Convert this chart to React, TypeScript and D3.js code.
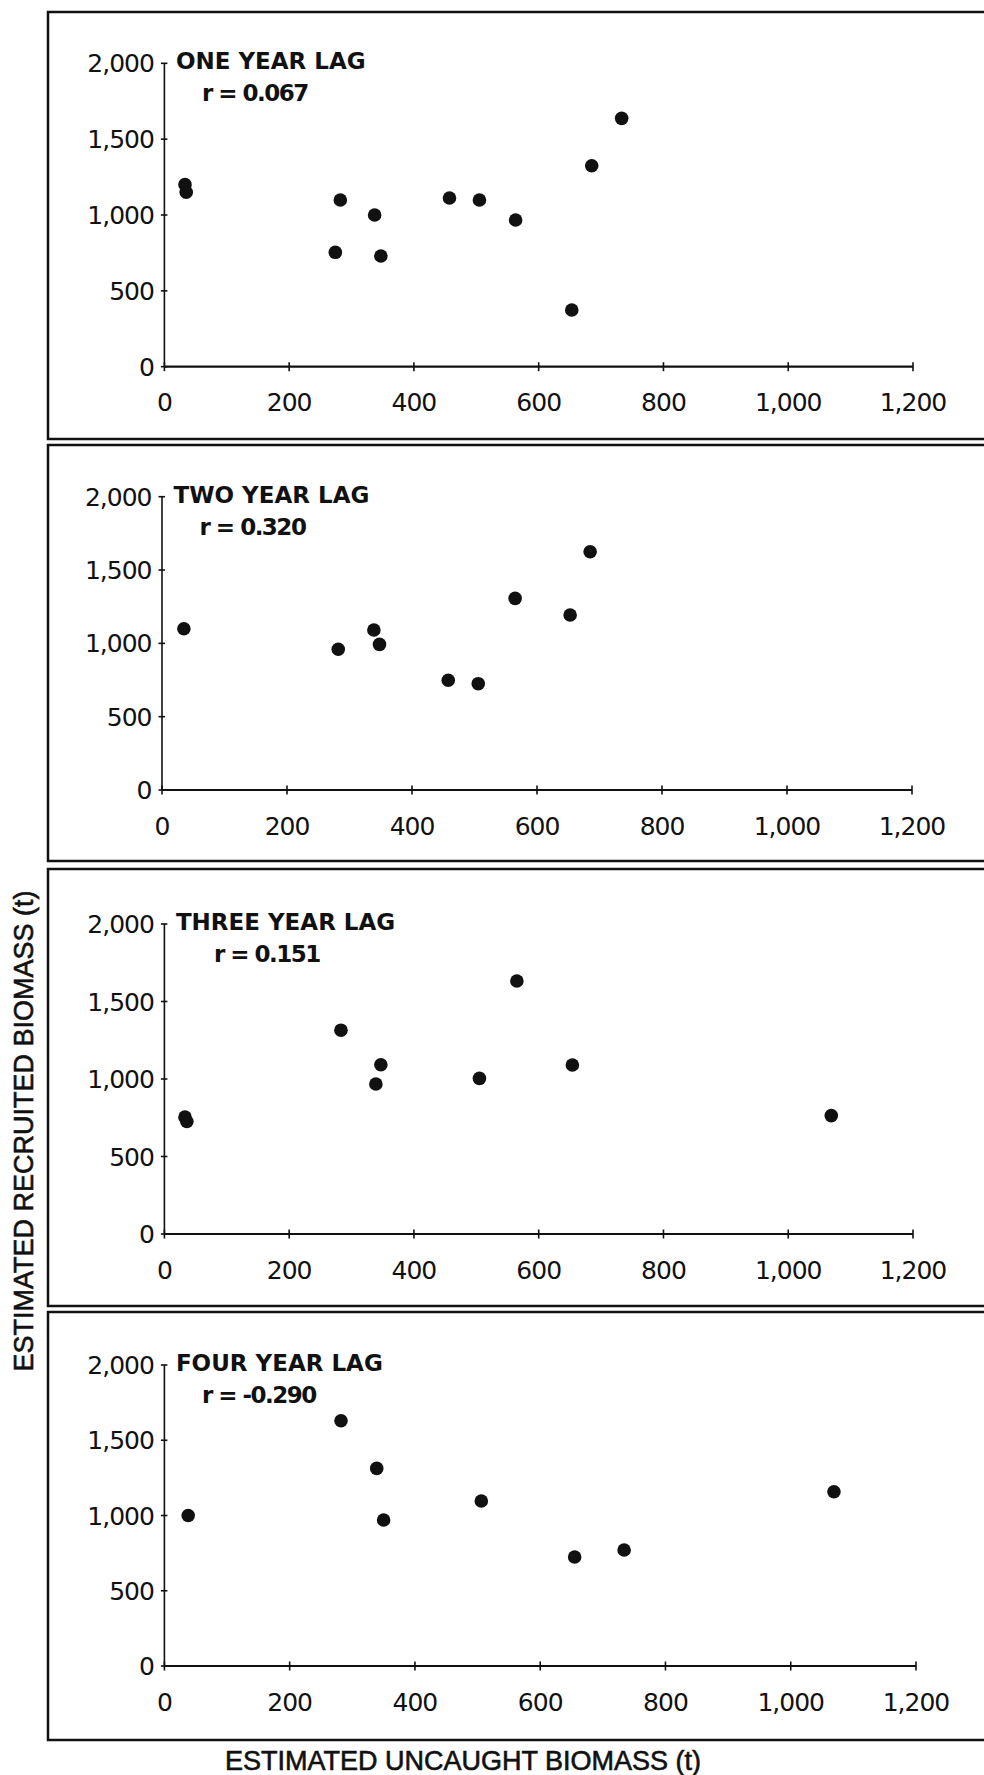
import React from 'react';
import * as d3 from 'd3';

// values
const panelTitles = ['ONE YEAR LAG', 'TWO YEAR LAG', 'THREE YEAR LAG', 'FOUR YEAR LAG'];
const rValues = ['0.067', '0.320', '0.151', '-0.290'];

const oneYearX = [33, 35, 274, 282, 337, 347, 457, 505, 563, 653, 685, 733];
const oneYearY = [1200, 1150, 754, 1099, 1000, 730, 1112, 1099, 967, 374, 1325, 1637];

const twoYearX = [35, 282, 339, 348, 458, 506, 565, 653, 685];
const twoYearY = [1100, 960, 1091, 993, 748, 725, 1307, 1193, 1625];

const threeYearX = [33, 36, 283, 339, 347, 505, 565, 654, 1069];
const threeYearY = [754, 726, 1315, 968, 1092, 1004, 1632, 1090, 764];

const fourYearX = [38, 282, 339, 350, 506, 655, 734, 1069];
const fourYearY = [1000, 1630, 1313, 970, 1096, 724, 771, 1158];

const xTicks = [0, 200, 400, 600, 800, 1000, 1200];
const yTicks = [0, 500, 1000, 1500, 2000];

const seriesX = [oneYearX, twoYearX, threeYearX, fourYearX];
const seriesY = [oneYearY, twoYearY, threeYearY, fourYearY];

// frame + axis placement of each panel (pixels)
const layout = [
  { top: 12, bottom: 439, x0: 164.4, x1: 913, y0: 366.7, y1: 63.3, rDx: 26 },
  { top: 445, bottom: 861, x0: 162, x1: 912, y0: 790, y1: 496.7, rDx: 26 },
  { top: 869, bottom: 1306, x0: 164.4, x1: 913, y0: 1234, y1: 924, rDx: 38 },
  { top: 1312, bottom: 1740, x0: 164.4, x1: 916, y0: 1666, y1: 1365, rDx: 26 },
];

const fmt = d3.format(',');
const ink = '#111';
const tickFont = '"DejaVu Sans", sans-serif';
const labelFont = '"Liberation Sans", Arial, sans-serif';

function Panel({ i }: { i: number }) {
  const L = layout[i];
  const x = d3.scaleLinear().domain([0, 1200]).range([L.x0, L.x1]);
  const y = d3.scaleLinear().domain([0, 2000]).range([L.y0, L.y1]);
  const xs = seriesX[i];
  const ys = seriesY[i];

  return (
    <g>
      {/* panel frame */}
      <rect x={48} y={L.top} width={960} height={L.bottom - L.top} fill="none" stroke={ink} strokeWidth={2.5} />

      {/* y axis */}
      <line x1={x(0)} x2={x(0)} y1={y(0)} y2={y(2000)} stroke={ink} strokeWidth={1.6} />
      {yTicks.map(t => (
        <g key={'y' + t}>
          <line x1={x(0) - 3.5} x2={x(0) + 3} y1={y(t)} y2={y(t)} stroke={ink} strokeWidth={1.6} />
          <text x={x(0) - 10.5} y={y(t)} dy="0.36em" textAnchor="end" fontFamily={tickFont} fontSize={25} letterSpacing={-1} fill={ink}>
            {fmt(t)}
          </text>
        </g>
      ))}

      {/* x axis */}
      <line x1={x(0)} x2={x(1200)} y1={y(0)} y2={y(0)} stroke={ink} strokeWidth={2.2} />
      {xTicks.map(t => (
        <g key={'x' + t}>
          <line x1={x(t)} x2={x(t)} y1={y(0) - 4.5} y2={y(0) + 4.5} stroke={ink} strokeWidth={1.6} />
          <text x={x(t)} y={y(0) + 44.5} textAnchor="middle" fontFamily={tickFont} fontSize={25} letterSpacing={-1} fill={ink}>
            {fmt(t)}
          </text>
        </g>
      ))}

      {/* titles */}
      <text x={x(0) + 11.5} y={y(2000) + 6} fontFamily={tickFont} fontWeight="bold" fontSize={23} fill={ink}>
        {panelTitles[i]}
      </text>
      <text x={x(0) + 11.5 + L.rDx} y={y(2000) + 38} fontFamily={tickFont} fontWeight="bold" fontSize={23} letterSpacing={-1.5} fill={ink}>
        {'r = ' + rValues[i]}
      </text>

      {/* points */}
      {xs.map((v, k) => (
        <circle key={k} cx={x(v)} cy={y(ys[k])} r={6.8} fill={ink} />
      ))}
    </g>
  );
}

export default function App() {
  return (
    <svg width={984} height={1775} style={{ position: 'absolute', left: 0, top: 0, background: '#fff' }}>
      <rect width={984} height={1775} fill="#fff" />
      {layout.map((_, i) => (
        <Panel key={i} i={i} />
      ))}
      <text
        transform="translate(33,1131) rotate(-90)"
        textAnchor="middle"
        fontFamily={labelFont}
        fontSize={27}
        fill={ink}
        stroke={ink}
        strokeWidth={0.6}
      >
        ESTIMATED RECRUITED BIOMASS (t)
      </text>
      <text x={463} y={1770} textAnchor="middle" fontFamily={labelFont} fontSize={27} fill={ink} stroke={ink} strokeWidth={0.6}>
        ESTIMATED UNCAUGHT BIOMASS (t)
      </text>
    </svg>
  );
}
